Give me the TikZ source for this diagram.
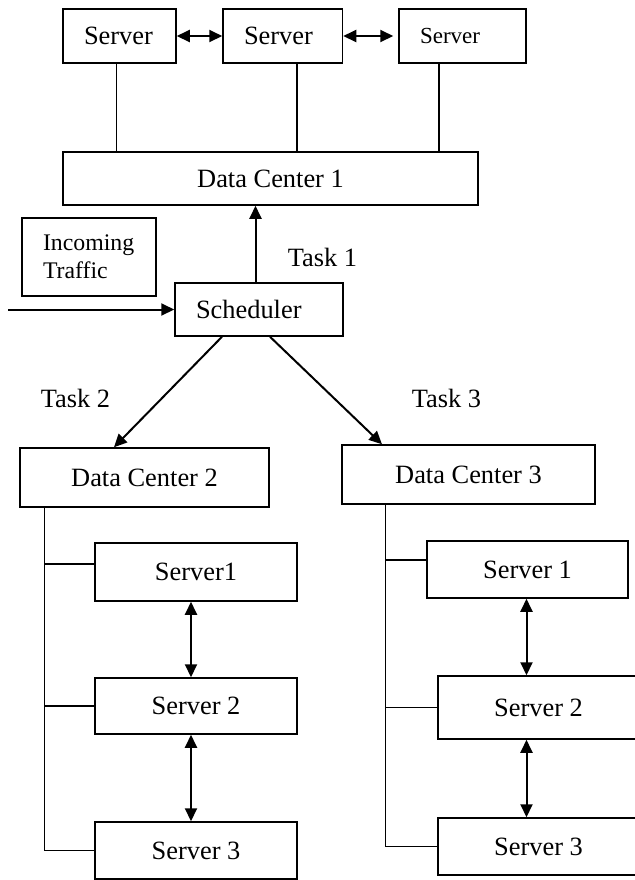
\documentclass[tikz,border=0pt]{standalone}
\usepackage{fontspec}
\setmainfont{Liberation Serif}
\usetikzlibrary{arrows.meta}
\tikzset{
  box/.style={draw,rectangle,line width=.75pt,inner sep=0pt,align=center},
  lbox/.style={draw,rectangle,line width=.75pt,inner ysep=0pt,inner xsep=10.5pt,align=left},
  link/.style={line width=.7pt},
  flow/.style={line width=1pt,-{Triangle[length=6.5pt,width=6pt]}},
  twoway/.style={line width=1pt,{Triangle[length=6.5pt,width=6pt]}-{Triangle[length=6.5pt,width=6pt]}},
}
\begin{document}
\begin{tikzpicture}[x=.5pt,y=-.5pt,font=\fontsize{13.2}{16}\selectfont]
  \useasboundingbox (0,0) rectangle (634,880);
  \node[lbox,text width=35.5pt,minimum height=27pt] (srvA) at (119.5,36) {Server};
  \node[lbox,text width=38.75pt,minimum height=27pt] (srvB) at (282.75,36) {Server};
  \node[lbox,text width=42.5pt,minimum height=27pt,font=\fontsize{11.5}{14}\selectfont] (srvC) at (462.5,36) {Server};
  \node[box,minimum width=207.5pt,minimum height=26.5pt] (dc1) at (270.5,178.5) {Data Center 1};
  \node[lbox,text width=46pt,minimum height=39pt,font=\fontsize{11.9}{14}\selectfont] (inc) at (89,257) {Incoming\\Traffic};
  \node[lbox,text width=63pt,minimum height=26.5pt] (sched) at (259,309.5) {Scheduler};
  \node (task1) at (322.5,257) {Task 1};
  \node (task2) at (75.5,398) {Task 2};
  \node (task3) at (446.5,398) {Task 3};
  \node[box,minimum width=124.5pt,minimum height=29.5pt] (dc2) at (144.5,477.5) {Data Center 2};
  \node[box,minimum width=126.5pt,minimum height=29.5pt] (dc3) at (468.5,474.5) {Data Center 3};
  \node[box,minimum width=101pt,minimum height=29pt] (Ls1) at (196,572) {Server1};
  \node[box,minimum width=101pt,minimum height=28pt] (Ls2) at (196,706) {Server 2};
  \node[box,minimum width=101pt,minimum height=28.5pt] (Ls3) at (196,850.5) {Server 3};
  \node[box,minimum width=100.5pt,minimum height=28.5pt] (Rs1) at (527.5,569.5) {Server 1};
  \node[box,minimum width=100.5pt,minimum height=31.5pt] (Rs2) at (538.5,707.5) {Server 2};
  \node[box,minimum width=100.5pt,minimum height=28.5pt] (Rs3) at (538.5,846.5) {Server 3};

  \draw[twoway] (srvA) -- (srvB);
  \draw[twoway,shorten >=2.5pt] (srvB) -- (srvC);
  \draw[link] ([xshift=-1.5pt]srvA.south) -- ([xshift=-1.5pt]srvA.south |- dc1.north);
  \draw[link] ([xshift=7.1pt]srvB.south) -- ([xshift=7.1pt]srvB.south |- dc1.north);
  \draw[link] ([xshift=-11.75pt]srvC.south) -- ([xshift=-11.75pt]srvC.south |- dc1.north);

  \coordinate (in) at (8,309.5);
  \draw[flow] (in) -- (sched.west);
  \draw[flow] ([xshift=-1.75pt]sched.north) -- ([xshift=-1.75pt]sched.north |- dc1.south);
  \draw[flow] ([xshift=-18.5pt]sched.south) -- ([xshift=-15.25pt]dc2.north);
  \draw[flow] ([xshift=5.5pt]sched.south) -- ([xshift=-43.25pt]dc3.north);

  \coordinate (t2) at ([xshift=12.5pt]dc2.south west);
  \coordinate (b2) at ([yshift=4pt]Ls1.west);
  \draw[link] (t2) |- (Ls3.west);
  \draw[link] (b2) -- (b2 -| t2);
  \draw[link] (Ls2.west) -- (Ls2.west -| t2);
  \draw[twoway] ([xshift=-2.5pt]Ls1.south) -- ([xshift=-2.5pt]Ls1.south |- Ls2.north);
  \draw[twoway] ([xshift=-2.5pt]Ls2.south) -- ([xshift=-2.5pt]Ls2.south |- Ls3.north);

  \coordinate (t3) at ([xshift=22pt]dc3.south west);
  \coordinate (b3) at ([yshift=4.75pt]Rs1.west);
  \draw[link] (t3) |- (Rs3.west);
  \draw[link] (b3) -- (b3 -| t3);
  \draw[link] (Rs2.west) -- (Rs2.west -| t3);
  \coordinate (ra) at ([xshift=-.5pt]Rs1.south);
  \draw[twoway] (ra) -- (ra |- Rs2.north);
  \draw[twoway] (ra |- Rs2.south) -- (ra |- Rs3.north);
\end{tikzpicture}
\end{document}
